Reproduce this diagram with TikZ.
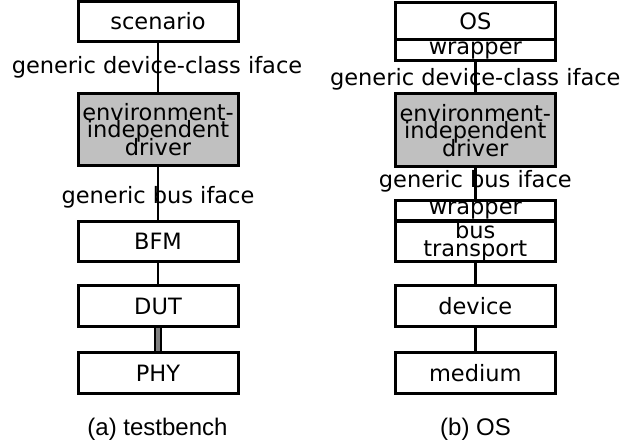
\documentclass[tikz,border=0pt]{standalone}
\usepackage{fontspec}
\setmainfont{DejaVu Sans}
\newfontfamily\capfont{Liberation Sans}
\newcommand\bxfont{\fontsize{22.5}{17.5}\selectfont\lineskiplimit=-50pt\relax}
\newcommand\cpfont{\capfont\fontsize{24}{28}\selectfont}
\definecolor{drvgray}{HTML}{C0C0C0}
\begin{document}
\begin{tikzpicture}[x=1pt,y=-1pt,
  box/.style={draw, line width=3pt, minimum width=160pt, inner sep=0pt, align=center, font=\bxfont},
  drvbox/.style={box, fill=drvgray},
  conn/.style={line width=2.6pt},
  phylink/.style={line width=2pt, double=gray, double distance=3.5pt},
  lbl/.style={anchor=base, inner sep=0pt, font=\bxfont},
  captxt/.style={anchor=base, inner sep=0pt, font=\cpfont}]
\useasboundingbox (0,0) rectangle (632,444);
% left column
\node[box, minimum height=40pt] (scen) at (158,21.5) {scenario};
\node[drvbox, minimum height=71.7pt] (drvL) at (158,129.2) {environment-\\independent\\driver};
\node[box, minimum height=40pt] (bfm) at (158,241) {BFM};
\node[box, minimum height=40.7pt] (dut) at (158,306.3) {DUT};
\node[box, minimum height=40.7pt] (phy) at (158,373) {PHY};
\draw[conn] (scen) -- (drvL);
\draw[conn] (drvL) -- (bfm);
\draw[conn] (bfm) -- (dut);
\draw[phylink] (dut) -- (phy);
\node[lbl] (lblLa) at (157,74) {generic device-class iface};
\node[lbl] (lblLb) at (158,203) {generic bus iface};
\node[captxt] (capA) at (157.5,435) {(a) testbench};
% right column
\node[box, minimum height=37.5pt] (os) at (475.3,21.25) {OS};
\node[box, minimum height=21pt] (wrapT) at (475.3,50.5) {wrapper};
\node[drvbox, minimum height=72.7pt] (drvR) at (475.3,130.3) {environment-\\independent\\driver};
\node[box, minimum height=21pt] (wrapB) at (475.3,210.5) {wrapper};
\node[box, minimum height=40.7pt] (bus) at (475.3,241.3) {bus\\transport};
\node[box, minimum height=40.7pt] (dev) at (475.3,306.3) {device};
\node[box, minimum height=40.7pt] (med) at (475.3,373) {medium};
\draw[conn] (wrapT) -- (drvR);
\draw[conn] (drvR) -- (wrapB);
\draw[conn] (bus) -- (dev);
\draw[conn] (dev) -- (med);
\node[lbl] (lblRa) at (475.3,85) {generic device-class iface};
\node[lbl] (lblRb) at (475.3,187.5) {generic bus iface};
\node[captxt] (capB) at (475.5,435) {(b) OS};
\end{tikzpicture}
\end{document}
